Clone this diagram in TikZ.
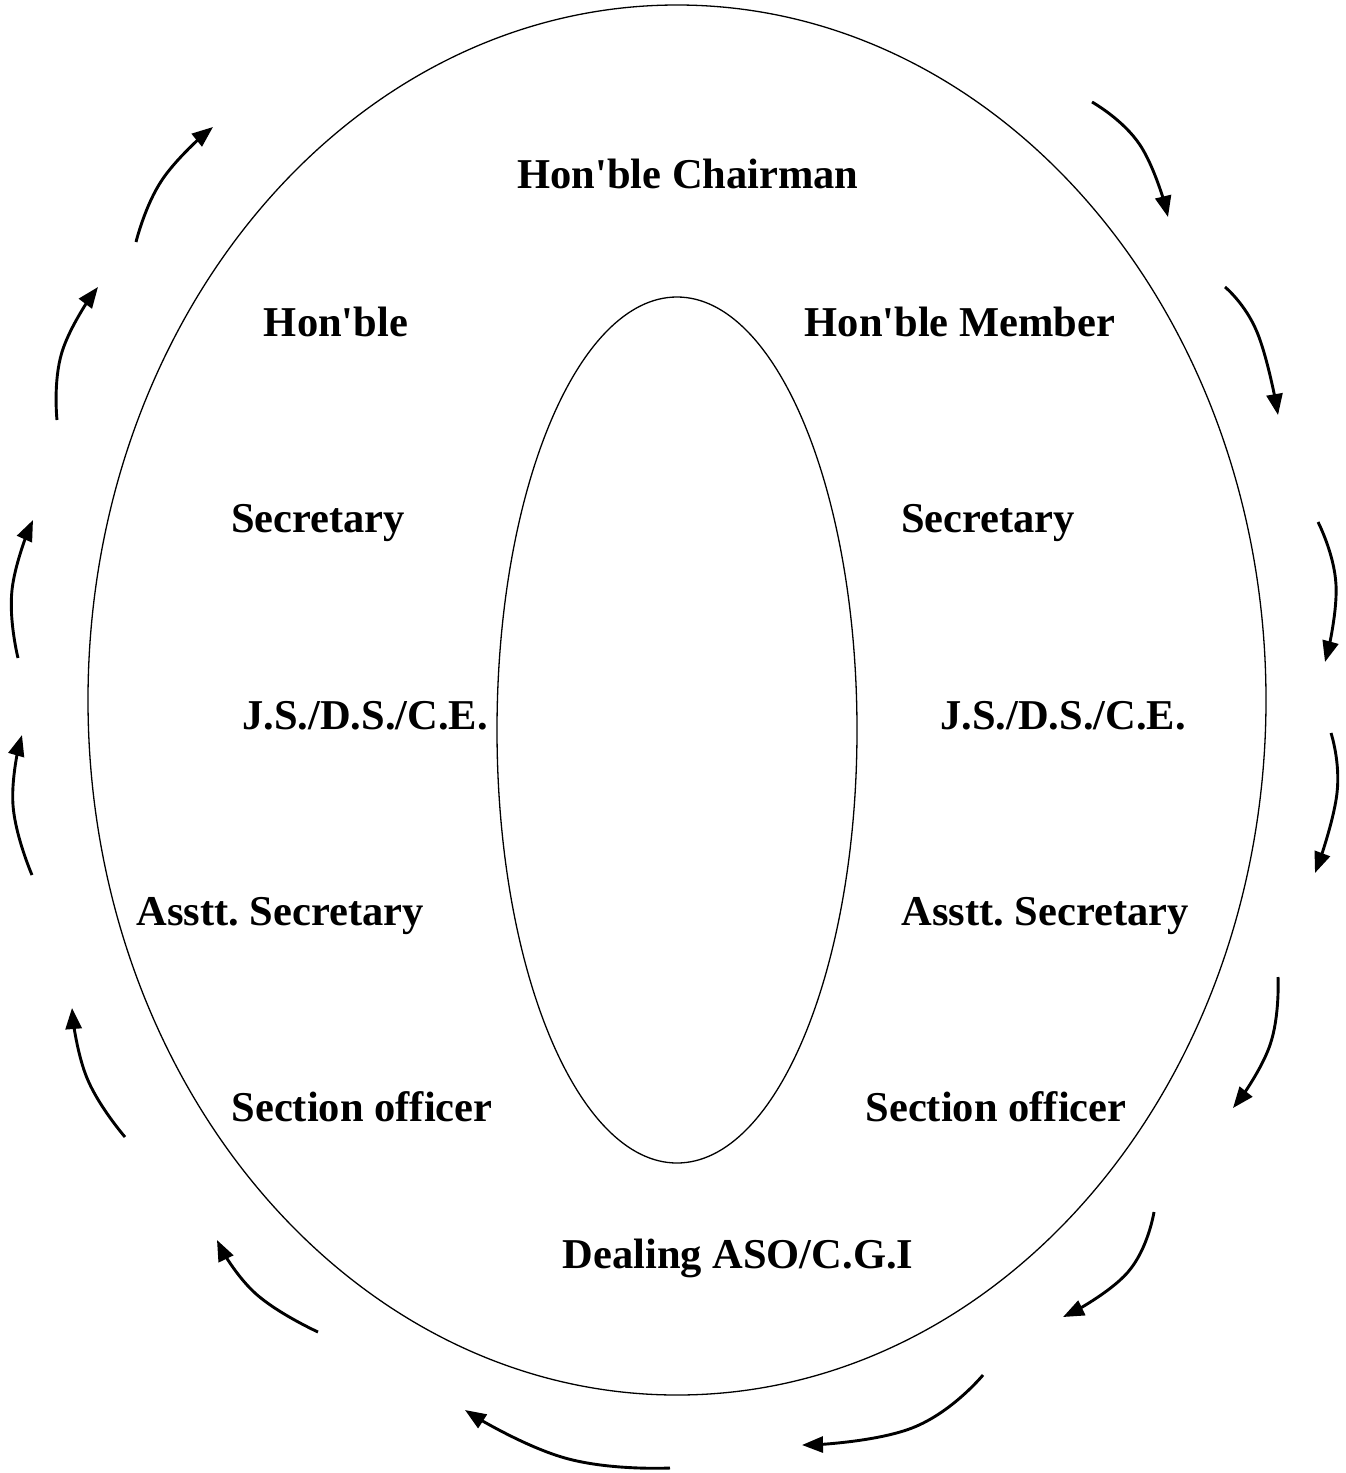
\documentclass[tikz,border=0pt]{standalone}
\usepackage{fontspec}
\setmainfont{Liberation Serif}
\usetikzlibrary{arrows.meta}
\frenchspacing
\tikzset{
  lbl/.style={anchor=base, inner sep=0pt, font=\fontsize{42.5}{50}\selectfont\bfseries},
  ring/.style={draw=black, line width=1.3pt},
  flow/.style={line width=2.9pt, -{Triangle[length=21pt,width=16pt]}},
}
\newcommand{\apo}{\textquotesingle}
\begin{document}
\begin{tikzpicture}[x=1pt,y=-1pt]
\useasboundingbox (0,0) rectangle (1346,1473);
% ellipses
\draw[ring] (677,700) ellipse [x radius=589, y radius=695];
\draw[ring] (677,730) ellipse [x radius=180, y radius=433];
% labels
\node[lbl] (chair) at (688,188) {Hon\apo ble Chairman};
\node[lbl] (honl) at (336,336) {Hon\apo ble};
\node[lbl] (honr) at (960,336) {Hon\apo ble Member};
\node[lbl] (secl) at (318,532) {Secretary};
\node[lbl] (secr) at (988,532) {Secretary};
\node[lbl] (jsl) at (365,729) {J.S./D.S./C.E.};
\node[lbl] (jsr) at (1063,729) {J.S./D.S./C.E.};
\node[lbl] (asl) at (280,925) {Asstt.\ Secretary};
\node[lbl] (asr) at (1045,925) {Asstt.\ Secretary};
\node[lbl] (sol) at (362,1121) {Section officer};
\node[lbl] (sor) at (996,1121) {Section officer};
\node[lbl] (deal) at (738,1268) {Dealing ASO/C.G.I};
% arrows right side (downwards)
\draw[flow] plot[smooth, tension=0.8] coordinates {(1092,102) (1140,145) (1168,217)};
\draw[flow] plot[smooth, tension=0.8] coordinates {(1225,287) (1257,332) (1278,415)};
\draw[flow] plot[smooth, tension=0.8] coordinates {(1318,522) (1336,585) (1325,662)};
\draw[flow] plot[smooth, tension=0.8] coordinates {(1331,733) (1337,793) (1315,873)};
\draw[flow] plot[smooth, tension=0.8] coordinates {(1278,977) (1270,1045) (1233,1108)};
\draw[flow] plot[smooth, tension=0.8] coordinates {(1154,1212) (1128,1272) (1063,1317)};
% bottom
\draw[flow] plot[smooth, tension=0.8] coordinates {(983,1375) (912,1428) (802,1445)};
\draw[flow] plot[smooth, tension=0.8] coordinates {(670,1468) (565,1458) (465,1410)};
% left side (upwards)
\draw[flow] plot[smooth, tension=0.8] coordinates {(318,1332) (255,1293) (217,1240)};
\draw[flow] plot[smooth, tension=0.8] coordinates {(125,1137) (87,1078) (72,1008)};
\draw[flow] plot[smooth, tension=0.8] coordinates {(32,875) (13,805) (22,735)};
\draw[flow] plot[smooth, tension=0.8] coordinates {(18,658) (12,590) (33,520)};
\draw[flow] plot[smooth, tension=0.8] coordinates {(57,420) (62,352) (98,287)};
\draw[flow] plot[smooth, tension=0.8] coordinates {(136,242) (162,180) (213,127)};
\end{tikzpicture}
\end{document}
